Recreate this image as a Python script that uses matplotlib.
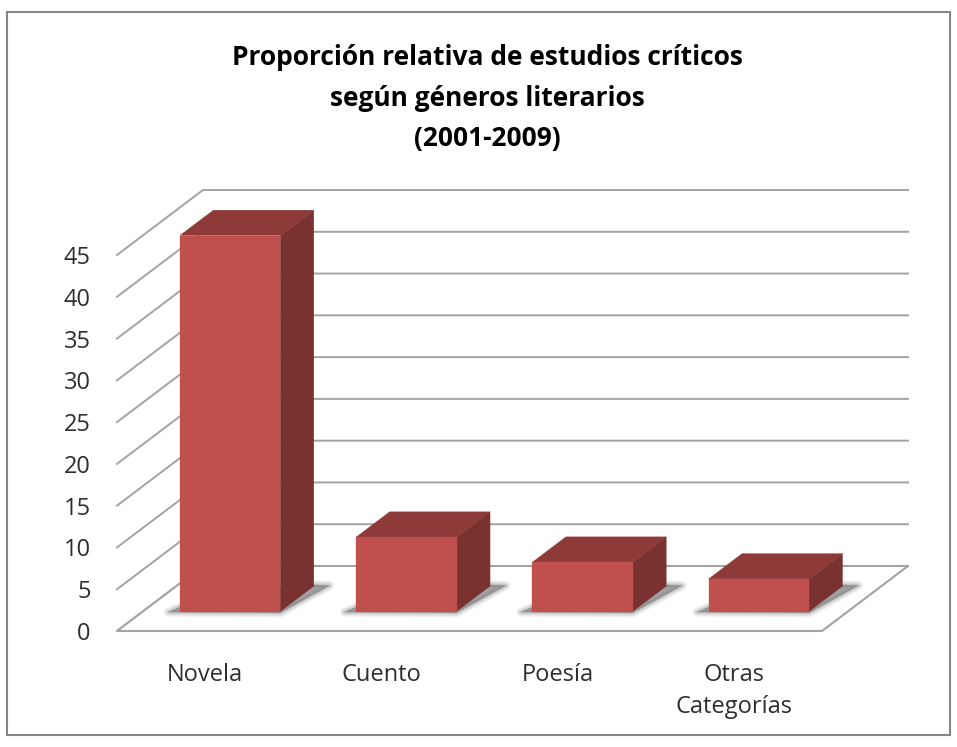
import matplotlib
matplotlib.use("Agg")
import matplotlib.pyplot as plt
from matplotlib.patches import Polygon, Rectangle

categories = ["Novela", "Cuento", "Poesía", "Otras\nCategorías"]
values = [45, 8.9, 5.9, 3.9]
ticks = [0, 5, 10, 15, 20, 25, 30, 35, 40, 45]

title = "Proporción relativa de estudios críticos\nsegún géneros literarios\n(2001-2009)"

W, H = 957, 747
plt.rcParams['font.family'] = ['Open Sans', 'DejaVu Sans']

fig = plt.figure(figsize=(W / 100, H / 100), dpi=100, facecolor="white")
# front plane of the 3d box, in pixels
left, right, bottom, top = 117, 822, 631, 255
ax = fig.add_axes([left / W, 1 - bottom / H, (right - left) / W, (bottom - top) / H])
ax.set_xlim(0, len(categories))
ax.set_ylim(0, 45)
ax.patch.set_alpha(0)
for s in ax.spines.values():
    s.set_visible(False)

# depth of the box in data units
DX = 86 / ((right - left) / len(categories))
DY = 65 / ((bottom - top) / 45)


def pt(x, v, d):
    return (x + d * DX, v + d * DY)


def poly(points, **kw):
    ax.add_patch(Polygon(points, closed=True, clip_on=False, **kw))


grid = "#a3a3a3"
n = len(categories)
for t in ticks:
    a, b, c = pt(0, t, 0), pt(0, t, 1), pt(n, t, 1)
    ax.plot([a[0], b[0], c[0]], [a[1], b[1], c[1]], color=grid, lw=1.4,
            clip_on=False, zorder=1, solid_joinstyle="miter")
poly([pt(0, 0, 0), pt(n, 0, 0), pt(n, 0, 1), pt(0, 0, 1)], facecolor="white",
     edgecolor=grid, lw=1.5, zorder=2)

d0, d1 = 0.30, 0.69
w = 0.57
for i, v in enumerate(values):
    x0, x1 = i + 0.495 - w / 2, i + 0.495 + w / 2
    # soft shadow on the floor
    shadow = [pt(x0 - 0.06, 0, d0 - 0.01), pt(x1 + 0.01, 0, d0 - 0.02), pt(x1 + 0.085, 0, d1 + 0.01),
              pt(x1, 0, d1 + 0.02), pt(x0, 0, d0 + 0.16)]
    for lw, al in [(7, 0.06), (5.5, 0.08), (4, 0.1), (2.5, 0.12), (1, 0.14)]:
        poly(shadow, facecolor="#6a6a6a", edgecolor="#6a6a6a", lw=lw, alpha=al, zorder=3,
             joinstyle="round")
    poly(shadow, facecolor="#808080", edgecolor="none", alpha=0.4, zorder=3)
    # top, side, front faces
    poly([pt(x0, v, d0), pt(x1, v, d0), pt(x1, v, d1), pt(x0, v, d1)],
         facecolor="#8e3a38", edgecolor="#8e3a38", lw=0.2, zorder=4)
    poly([pt(x1, 0, d0), pt(x1, 0, d1), pt(x1, v, d1), pt(x1, v, d0)],
         facecolor="#7a3230", edgecolor="#7a3230", lw=0.2, zorder=4)
    poly([pt(x0, 0, d0), pt(x1, 0, d0), pt(x1, v, d0), pt(x0, v, d0)],
         facecolor="#c0504d", edgecolor="#c0504d", lw=0.2, zorder=5)

ax.set_yticks(ticks)
ax.set_xticks([i + 0.5 for i in range(n)])
ax.set_xticklabels(categories, linespacing=1.45)
ax.tick_params(axis="y", length=0, pad=19, labelsize=17, labelcolor="#2e2e2e")
ax.tick_params(axis="x", length=0, pad=23, labelsize=17, labelcolor="#2e2e2e")

fig.text(487 / W, 1 - 98 / H, title, ha="center", va="center", fontsize=19,
         fontweight="bold", color="black", linespacing=1.64)

# chart area border
fig.add_artist(Rectangle((7 / W, 1 - 735 / H), 943 / W, 723 / H, transform=fig.transFigure,
                         facecolor="none", edgecolor="#868686", lw=1.5))

fig.savefig("out.png", dpi=100)
